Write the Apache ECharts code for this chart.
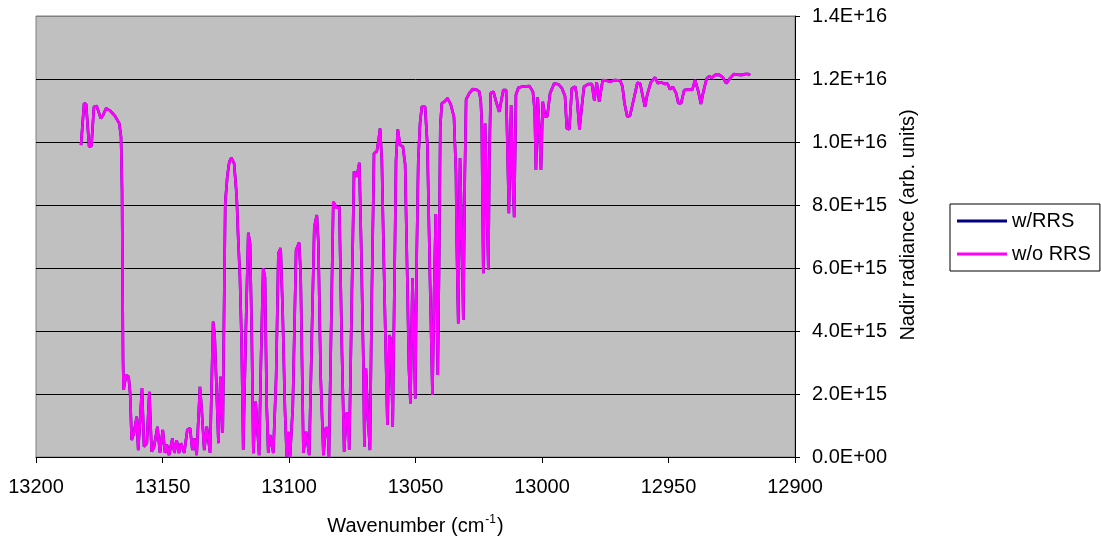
<!DOCTYPE html>
<html>
<head>
<meta charset="utf-8">
<script src="https://cdn.jsdelivr.net/npm/echarts@6/dist/echarts.min.js"></script>
<style>
html,body{margin:0;padding:0;background:#fff;}
#chart{width:1101px;height:544px;}
</style>
</head>
<body>
<div id="chart"></div>
<script>
// Wavenumber (cm^-1)
const wavenumbers = [
13182.2,13181.0,13180.2,13179.0,13178.1,13177.1,13176.0,13174.4,13173.5,13172.3,
13170.8,13168.8,13167.1,13166.4,13166.0,13165.6,13165.4,13164.4,13163.4,13162.8,
13162.2,13161.3,13160.2,13159.6,13158.1,13157.3,13156.2,13155.2,13154.3,13153.4,
13152.0,13151.0,13149.9,13149.0,13148.3,13147.4,13146.1,13145.3,13144.4,13143.5,
13142.7,13141.4,13140.2,13139.1,13138.2,13137.4,13136.5,13135.2,13134.5,13133.5,
13132.5,13132.0,13131.2,13130.0,13129.4,13127.9,13127.1,13126.2,13125.2,13124.4,
13123.6,13122.8,13121.7,13120.7,13120.0,13119.4,13118.7,13118.1,13117.1,13116.1,
13115.4,13114.7,13114.1,13113.2,13112.6,13111.8,13111.1,13110.2,13109.5,13108.8,
13108.2,13107.5,13106.8,13106.2,13105.1,13104.2,13103.3,13102.5,13101.6,13100.9,
13100.3,13099.6,13098.5,13097.2,13096.0,13095.4,13094.3,13093.3,13092.8,13092.0,
13091.0,13090.0,13089.0,13088.4,13087.5,13086.4,13085.5,13084.7,13084.2,13083.4,
13082.5,13081.8,13081.1,13080.1,13079.2,13078.2,13077.3,13076.5,13076.2,13075.2,
13074.3,13073.2,13072.2,13071.5,13070.6,13070.2,13069.6,13068.9,13068.0,13067.3,
13066.4,13065.3,13064.7,13064.0,13063.3,13062.7,13061.8,13061.1,13060.3,13059.7,
13059.0,13058.4,13057.7,13057.0,13056.1,13055.0,13054.1,13053.2,13052.6,13052.0,
13051.2,13050.7,13050.1,13049.5,13048.9,13048.2,13047.5,13046.2,13045.3,13044.3,
13043.3,13042.7,13042.0,13041.2,13040.7,13040.2,13039.6,13038.3,13037.4,13036.1,
13034.8,13034.0,13033.7,13033.1,13032.4,13031.7,13031.1,13030.5,13030.0,13028.7,
13027.4,13025.8,13024.8,13024.2,13023.8,13023.5,13023.2,13022.5,13021.8,13021.2,
13020.8,13020.3,13019.2,13018.2,13016.9,13015.3,13014.2,13013.7,13013.1,13012.2,
13011.6,13011.0,13010.3,13009.3,13007.4,13005.0,13003.6,13002.9,13002.4,13001.7,
13001.1,13000.4,12999.7,12998.8,12997.9,12996.8,12995.2,12993.5,12992.2,12990.9,
12990.2,12989.2,12988.2,12986.9,12986.3,12985.2,12984.3,12983.4,12981.7,12980.3,
12979.3,12978.4,12978.0,12977.4,12976.0,12974.7,12973.1,12971.1,12969.1,12968.2,
12967.4,12966.3,12965.2,12963.9,12962.3,12961.2,12960.3,12959.3,12958.4,12957.0,
12955.3,12954.2,12953.1,12951.4,12950.4,12949.4,12948.3,12947.0,12946.1,12945.0,
12943.8,12941.5,12940.6,12939.5,12938.2,12937.2,12936.2,12934.9,12933.8,12932.9,
12931.6,12929.9,12928.5,12927.2,12925.7,12924.1,12922.0,12920.6,12919.7,12918.4,
12917.8
];

// Nadir radiance, in units of 1e15 (the two curves coincide at this scale)
const radianceWoRRS = [
9.90,11.23,11.20,9.85,9.87,11.12,11.14,10.75,10.85,11.07,
11.00,10.83,10.59,10.17,8.50,3.08,2.13,2.60,2.55,2.03,
0.54,0.76,1.28,0.22,2.19,0.33,0.44,2.07,0.17,0.30,
0.96,0.13,0.86,0.13,0.40,0.06,0.59,0.13,0.53,0.13,
0.44,0.13,0.86,0.92,0.22,0.59,0.06,2.23,1.50,0.22,
0.96,0.95,0.13,4.30,3.90,0.44,2.55,0.76,8.05,8.90,
9.37,9.50,9.32,8.30,6.78,5.72,3.50,0.22,3.90,7.12,
6.78,3.80,0.12,1.76,1.70,0.06,3.00,5.99,5.70,1.60,
0.13,0.70,0.70,0.13,2.50,6.47,6.63,4.60,1.50,0.01,
0.80,0.00,1.60,6.57,6.81,5.80,0.13,0.80,0.75,0.06,
3.80,7.31,7.68,6.80,2.60,0.06,0.92,0.92,0.00,3.80,
8.10,8.00,7.90,7.95,3.80,0.17,1.39,1.39,0.22,5.00,
9.06,8.90,9.34,6.80,3.00,0.33,2.81,1.40,0.22,5.00,
9.64,9.70,10.00,10.43,9.40,6.90,3.50,1.02,3.87,3.70,
0.96,5.00,9.43,10.40,9.90,9.86,9.30,5.50,2.80,1.70,
5.67,4.30,1.86,6.50,9.43,10.60,11.12,11.12,9.90,5.72,
1.97,5.00,7.71,2.60,6.00,10.50,11.23,11.30,11.39,11.20,
10.80,9.00,6.78,4.24,9.48,7.00,4.35,9.00,11.35,11.55,
11.68,11.66,11.60,11.30,10.59,8.00,5.83,10.59,8.00,5.94,
9.50,11.55,11.60,11.30,10.96,11.65,11.65,10.00,7.74,11.17,
9.00,7.61,11.50,11.73,11.76,11.78,11.60,11.00,9.11,11.42,
10.50,9.11,11.28,10.80,10.82,11.55,11.86,11.83,11.72,11.45,
10.43,10.40,11.70,11.76,11.50,10.40,11.10,11.76,11.84,11.84,
11.31,11.90,11.90,11.28,11.97,11.95,11.91,11.97,11.95,11.76,
11.23,10.80,10.84,11.30,11.88,11.86,11.50,11.12,11.50,11.89,
12.05,11.86,11.90,11.84,11.86,11.67,11.75,11.55,11.23,11.23,
11.65,11.67,11.65,11.97,11.60,11.21,11.60,12.02,12.10,12.03,
12.13,12.13,12.05,11.86,12.02,12.16,12.13,12.13,12.16,12.16,
12.12
];
const radianceWRRS = radianceWoRRS; // visually identical, hidden underneath

const UNIT = 1e15;
const seriesNames = ['w/RRS', 'w/o RRS'];
const xTicks = [13200, 13150, 13100, 13050, 13000, 12950, 12900];

function pairs(vals) {
  const n = Math.min(wavenumbers.length, vals.length);
  const out = [];
  for (let i = 0; i < n; i++) out.push([wavenumbers[i], vals[i] * UNIT]);
  return out;
}

function sci(v) {
  if (v === 0) return '0.0E+00';
  const s = v.toExponential(1);
  const parts = s.split('e');
  const sign = parts[1][0] === '-' ? '-' : '+';
  let e = parts[1].replace(/[+-]/, '');
  if (e.length < 2) e = '0' + e;
  return parts[0] + 'E' + sign + e;
}

const FONT = "'Liberation Sans', Arial, sans-serif";
const chart = echarts.init(document.getElementById('chart'), null, {renderer: 'canvas'});
chart.setOption({
  animation: false,
  backgroundColor: '#ffffff',
  textStyle: {fontFamily: FONT},
  grid: {
    left: 36, right: 306, top: 16, bottom: 87,
    show: true, backgroundColor: '#C0C0C0', borderColor: '#808080', borderWidth: 1
  },
  legend: {
    orient: 'vertical',
    left: 950, top: 204,
    padding: [7, 9, 7, 7],
    itemGap: 13,
    itemWidth: 50, itemHeight: 3,
    icon: 'rect',
    borderColor: '#000', borderWidth: 1,
    backgroundColor: '#fff',
    textStyle: {fontFamily: FONT, fontSize: 20, color: '#000'},
    data: seriesNames
  },
  xAxis: {
    type: 'value',
    inverse: true,
    min: 12900, max: 13200, interval: 50,
    axisLine: {show: true, onZero: false, lineStyle: {color: '#000', width: 1}},
    axisTick: {show: true, length: 6, lineStyle: {color: '#000'}},
    splitLine: {show: false},
    axisLabel: {
      margin: 20, fontSize: 20, color: '#000', fontFamily: FONT,
      formatter: function (v) { return xTicks.indexOf(v) >= 0 ? String(v) : ''; }
    },
    name: '{n|Wavenumber (cm}{s|-1}{n|)}',
    nameLocation: 'middle',
    nameGap: 57,
    nameTextStyle: {
      rich: {
        n: {fontSize: 20, fontFamily: FONT, color: '#000', verticalAlign: 'bottom', lineHeight: 22},
        s: {fontSize: 12, fontFamily: FONT, color: '#000', verticalAlign: 'top', padding: [0, 1, 10, 1], lineHeight: 22}
      }
    }
  },
  yAxis: {
    type: 'value',
    position: 'right',
    min: 0, max: 1.4e16, interval: 2e15,
    axisLine: {show: true, lineStyle: {color: '#000', width: 1}},
    axisTick: {show: true, length: 5, lineStyle: {color: '#000'}},
    splitLine: {show: true, lineStyle: {color: ['#000','#000','#000','#000','#000','#000','#000','#808080'], width: 1}},
    axisLabel: {margin: 17, fontSize: 20, color: '#000', fontFamily: FONT, formatter: sci}
  },
  graphic: [{
    type: 'text',
    x: 908, y: 225,
    rotation: Math.PI / 2,
    style: {
      text: 'Nadir radiance (arb. units)',
      fontSize: 20, fontFamily: FONT, fill: '#000',
      textAlign: 'center', textVerticalAlign: 'middle'
    }
  }],
  series: [
    {
      name: seriesNames[0], type: 'line', data: pairs(radianceWRRS),
      symbol: 'none', lineStyle: {color: '#000080', width: 2.6}, itemStyle: {color: '#000080'}
    },
    {
      name: seriesNames[1], type: 'line', data: pairs(radianceWoRRS),
      symbol: 'none', lineStyle: {color: '#FF00FF', width: 2.6}, itemStyle: {color: '#FF00FF'}
    }
  ]
});
</script>
</body>
</html>
